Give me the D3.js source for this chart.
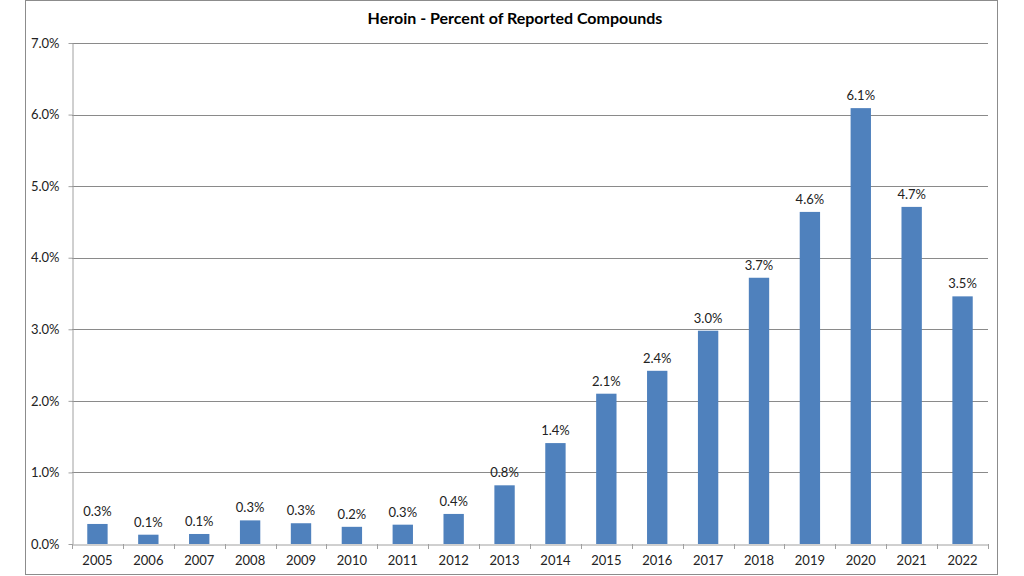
<!DOCTYPE html>
<html><head><meta charset="utf-8">
<script src="https://cdn.jsdelivr.net/npm/d3@7"></script>
<style>body{margin:0;background:#fff}svg{display:block}</style>
</head><body><svg id="c" width="1024" height="576"></svg>
<script>
const title = "Heroin - Percent of Reported Compounds";
const years = ["2005","2006","2007","2008","2009","2010","2011","2012","2013","2014","2015","2016","2017","2018","2019","2020","2021","2022"];
const values = [0.28,0.13,0.14,0.33,0.29,0.24,0.27,0.42,0.82,1.41,2.10,2.42,2.98,3.72,4.64,6.09,4.71,3.46];
const yTicks = [0,1,2,3,4,5,6,7];

const svg = d3.select("#c");
const font = "Lato, 'Open Sans', sans-serif";
svg.append("rect").attr("x",25.5).attr("y",0.5).attr("width",972).attr("height",574)
  .attr("fill","#fff").attr("stroke","#8c8c8c").attr("stroke-width",1);

const L=72, R=988, T=43, B=544;
const x = d3.scaleBand().domain(years).range([L,R]).paddingInner(0.6).paddingOuter(0.3);
const xb = d3.scaleBand().domain(years).range([L,R]);
const y = d3.scaleLinear().domain([0,7]).range([B,T]);

svg.append("text").attr("x",515).attr("y",24).attr("text-anchor","middle")
  .attr("font-family",font).attr("font-weight","bold").attr("font-size",16).attr("fill","#000").text(title);

// gridlines
svg.append("g").selectAll("line").data(yTicks.filter(d=>d>0)).join("line")
  .attr("x1",L).attr("x2",R).attr("y1",d=>Math.round(y(d))+0.5).attr("y2",d=>Math.round(y(d))+0.5)
  .attr("stroke","#8a8a8a").attr("stroke-width",1);

// y axis
const ya = svg.append("g").attr("transform",`translate(${L+0.5},0)`)
  .call(d3.axisLeft(y).tickValues(yTicks).tickFormat(d=>d.toFixed(1)+"%").tickSize(4).tickSizeOuter(0));
ya.select(".domain").attr("stroke","#a0a0a0");
ya.selectAll(".tick line").attr("stroke","#a0a0a0");
ya.selectAll(".tick text").attr("font-family",font).attr("font-size",13).attr("fill","#222").attr("x",-13);

// bars
svg.append("g").selectAll("rect").data(values).join("rect")
  .attr("x",(d,i)=>x(years[i])).attr("width",x.bandwidth())
  .attr("y",d=>y(d)).attr("height",d=>B-y(d)).attr("fill","#4f81bd");

// data labels
svg.append("g").selectAll("text").data(values).join("text")
  .attr("x",(d,i)=>x(years[i])+x.bandwidth()/2).attr("y",d=>y(d)-8)
  .attr("text-anchor","middle").attr("font-family",font).attr("font-size",13).attr("fill","#222")
  .text(d=>d.toFixed(1)+"%");

// x axis
const xa = svg.append("g").attr("transform",`translate(0,${B+0.5})`)
  .call(d3.axisBottom(xb).tickSize(0).tickSizeOuter(0));
xa.select(".domain").attr("stroke","#a0a0a0");
xa.selectAll(".tick text").attr("font-family",font).attr("font-size",13).attr("fill","#222").attr("dy","1.35em");
svg.append("g").selectAll("line").data(years.concat(["end"])).join("line")
  .attr("x1",(d,i)=>Math.round(L+i*xb.bandwidth())+0.5).attr("x2",(d,i)=>Math.round(L+i*xb.bandwidth())+0.5)
  .attr("y1",B).attr("y2",B+5).attr("stroke","#a0a0a0");
</script></body></html>
